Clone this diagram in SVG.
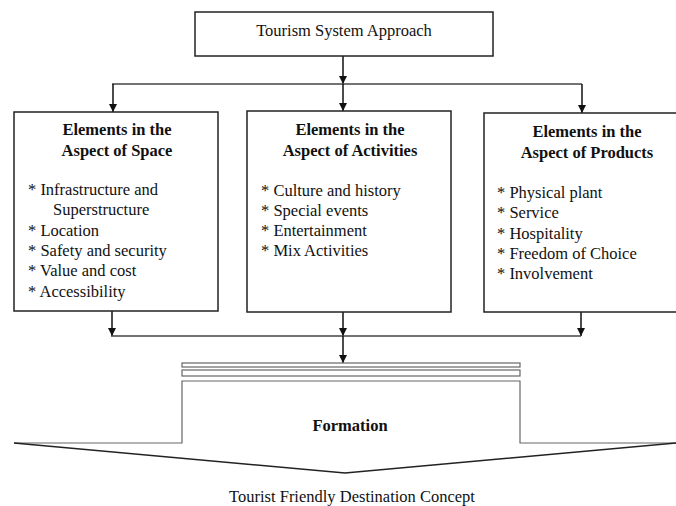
<svg xmlns="http://www.w3.org/2000/svg" width="676" height="506" viewBox="0 0 676 506">
<defs>
<style>
.box{fill:#fff;stroke:#222;stroke-width:1.5}
.t{font-family:"Liberation Serif","Times New Roman",serif;font-size:16.5px;fill:#111}
.h{font-family:"Liberation Serif","Times New Roman",serif;font-size:16.5px;font-weight:bold;fill:#111;text-anchor:middle}
.ln{stroke:#444;stroke-width:1.3;fill:none}
.ar{stroke:#111;stroke-width:1.5;fill:none;marker-end:url(#ah)}
.gray{stroke:#666;stroke-width:1.2;fill:#fff}
</style>
<marker id="ah" viewBox="0 0 10 10" refX="10" refY="5" markerWidth="8" markerHeight="8" markerUnits="userSpaceOnUse" orient="auto">
<path d="M0,0 L10,5 L0,10 Z" fill="#111"/>
</marker>
</defs>
<rect width="676" height="506" fill="#fff"/>

<g id="connectors">
<line class="ar" x1="343" y1="56" x2="343" y2="84"/>
<line class="ln" x1="112" y1="84" x2="582" y2="84"/>
<line class="ar" x1="113" y1="84" x2="113" y2="112"/>
<line class="ar" x1="343" y1="84" x2="343" y2="111"/>
<line class="ar" x1="582" y1="84" x2="582" y2="113"/>
<line class="ar" x1="112" y1="311" x2="112" y2="336"/>
<line class="ar" x1="343" y1="312" x2="343" y2="336"/>
<line class="ar" x1="581" y1="312" x2="581" y2="336"/>
<line class="ln" x1="111" y1="336" x2="581" y2="336"/>
<line class="ar" x1="343" y1="336" x2="343" y2="363"/>
</g>

<g id="top">
<rect class="box" x="195" y="12" width="298" height="44"/>
<text class="t" x="344" y="36" text-anchor="middle" font-size="17.5">Tourism System Approach</text>
</g>

<g id="space">
<rect class="box" x="14" y="112" width="204" height="199"/>
<text class="h" x="117" y="135">Elements in the</text>
<text class="h" x="117" y="156">Aspect of Space</text>
<text class="t" x="28" y="195">* Infrastructure and</text>
<text class="t" x="53" y="215">Superstructure</text>
<text class="t" x="28" y="236">* Location</text>
<text class="t" x="28" y="256">* Safety and security</text>
<text class="t" x="28" y="276">* Value and cost</text>
<text class="t" x="28" y="297">* Accessibility</text>
</g>

<g id="activities">
<rect class="box" x="247" y="111" width="204" height="201"/>
<text class="h" x="350" y="135">Elements in the</text>
<text class="h" x="350" y="156">Aspect of Activities</text>
<text class="t" x="261" y="196">* Culture and history</text>
<text class="t" x="261" y="216">* Special events</text>
<text class="t" x="261" y="236">* Entertainment</text>
<text class="t" x="261" y="256">* Mix Activities</text>
</g>

<g id="products">
<rect class="box" x="484" y="113" width="200" height="199"/>
<text class="h" x="587" y="137">Elements in the</text>
<text class="h" x="587" y="158">Aspect of Products</text>
<text class="t" x="497" y="198">* Physical plant</text>
<text class="t" x="497" y="218">* Service</text>
<text class="t" x="497" y="239">* Hospitality</text>
<text class="t" x="497" y="259">* Freedom of Choice</text>
<text class="t" x="497" y="279">* Involvement</text>
</g>

<g id="formation">
<rect class="gray" x="182" y="363" width="338" height="4"/>
<rect class="gray" x="182" y="370" width="338" height="6"/>
<path d="M182,381 L520,381 L520,443 L676,443 L345,473 L14,443 L182,443 Z" fill="#fff" stroke="none"/>
<path d="M14,443 L182,443 L182,381 L520,381 L520,443 L676,443" fill="none" stroke="#666" stroke-width="1.2"/>
<path d="M14,443 L345,473 L676,443" fill="none" stroke="#222" stroke-width="1.5"/>
<text class="h" x="350" y="431" font-size="16">Formation</text>
</g>

<g id="concept">
<text class="t" x="352" y="502" text-anchor="middle">Tourist Friendly Destination Concept</text>
</g>
</svg>
